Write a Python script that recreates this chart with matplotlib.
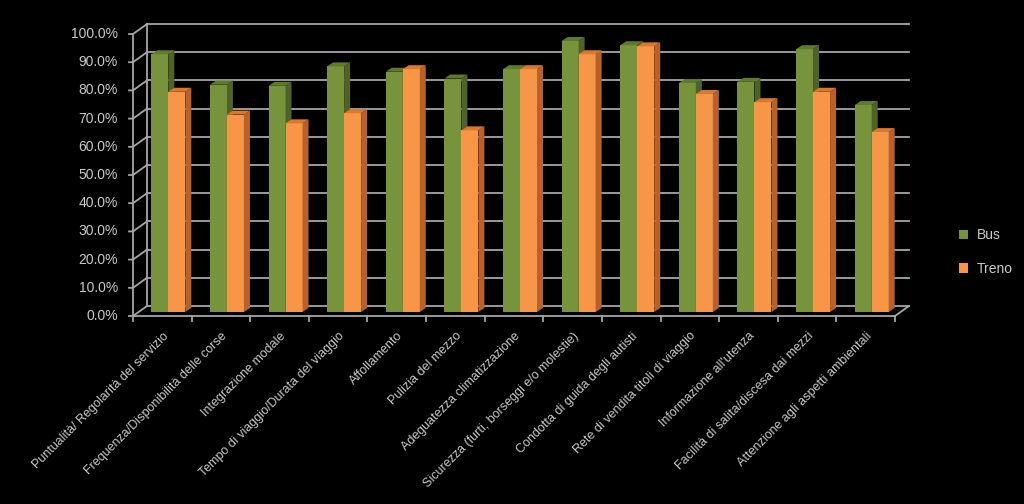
import matplotlib
matplotlib.use('Agg')
import matplotlib.pyplot as plt
from matplotlib.patches import Polygon, Patch

categories = [
    "Puntualità/ Regolarità del servizio",
    "Frequenza/Disponibilità delle corse",
    "Integrazione modale",
    "Tempo di viaggio/Durata del viaggio",
    "Affollamento",
    "Pulizia del mezzo",
    "Adeguatezza climatizzazione",
    "Sicurezza (furti, borseggi e/o molestie)",
    "Condotta di guida degli autisti",
    "Rete di vendita titoli di viaggio",
    "Informazione all'utenza",
    "Facilità di salita/discesa dai mezzi",
    "Attenzione agli aspetti ambientali",
]
bus = [91.4, 80.6, 80.2, 87.1, 85.2, 82.8, 86.1, 96.1, 94.6, 81.2, 81.6, 93.2, 73.4]
treno = [78.1, 70.0, 66.9, 70.5, 86.1, 64.4, 86.1, 91.4, 94.2, 77.3, 74.4, 78.1, 63.8]
series_names = ["Bus", "Treno"]
yticks = list(range(0, 101, 10))

GRID = "#a6a6a6"
TEXT = "#c8c8c8"
GREEN = ("#77933c", "#4f6228", "#5e7a2c")   # front, side, top
ORANGE = ("#f79646", "#b8612a", "#d9782f")

fig = plt.figure(figsize=(10.24, 5.04), dpi=100, facecolor="black")
ax = fig.add_axes([139 / 1024, (504 - 312) / 504, 762 / 1024, 282 / 504])
ax.set_xlim(-0.5, len(categories) - 0.5)
ax.set_ylim(0, 100)
ax.axis("off")

# pixel -> data unit helpers
px_x = 762 / len(categories)
px_y = 282 / 100


def px(dx, dy):
    return dx / px_x, dy / px_y


back = px(8, 6)
front = px(-6, -4)
xl, xr = -0.5, len(categories) - 0.5
line_kw = dict(color=GRID, lw=1.3, clip_on=False, zorder=1)

# back wall gridlines + left wall connectors
for v in yticks:
    ax.plot([xl + back[0], xr + back[0]], [v + back[1]] * 2, **line_kw)
    ax.plot([xl + front[0] - px(4, 0)[0], xl + front[0], xl + back[0]],
            [v + front[1], v + front[1], v + back[1]], **line_kw)
    ax.text(xl + front[0] - px(15, 0)[0], v + front[1], f"{v:.1f}%",
            ha="right", va="center", color=TEXT, fontsize=10,
            family="Liberation Sans")

# left wall verticals
ax.plot([xl + back[0]] * 2, [back[1], 100 + back[1]], **line_kw)
ax.plot([xl + front[0]] * 2, [front[1], 100 + front[1]], **line_kw)

# floor
ax.plot([xl + front[0], xr + front[0]], [front[1]] * 2, **line_kw)
ax.plot([xr + front[0], xr + back[0]], [front[1], back[1]], **line_kw)
for k in range(len(categories) + 1):
    x = xl + k + front[0]
    ax.plot([x, x], [front[1], front[1] - px(0, 5)[1]], **line_kw)

# bars with fake depth
w = 0.29
d = px(6, 4)
for i in range(len(categories)):
    for vals, off, cols in [(bus, -w / 2, GREEN), (treno, w / 2, ORANGE)]:
        v = vals[i]
        x0 = i + off - w / 2
        x1 = x0 + w
        ax.add_patch(Polygon([(x0, 0), (x1, 0), (x1, v), (x0, v)],
                             closed=True, facecolor=cols[0], edgecolor="none",
                             zorder=3, clip_on=False))
        ax.add_patch(Polygon([(x1, 0), (x1, v), (x1 + d[0], v + d[1]), (x1 + d[0], d[1])],
                             closed=True, facecolor=cols[1], edgecolor="none",
                             zorder=3, clip_on=False))
        ax.add_patch(Polygon([(x0, v), (x1, v), (x1 + d[0], v + d[1]), (x0 + d[0], v + d[1])],
                             closed=True, facecolor=cols[2], edgecolor="none",
                             zorder=3, clip_on=False))

# category labels
for i, name in enumerate(categories):
    ax.text(i + front[0], front[1] - px(0, 14)[1], name, rotation=45,
            rotation_mode="anchor", ha="right", va="top", color=TEXT,
            fontsize=9, family="Liberation Sans")

handles = [Patch(facecolor=GREEN[0]), Patch(facecolor=ORANGE[0])]
fig.legend(handles, series_names, loc="center left",
           bbox_to_anchor=(946 / 1024, 0.5), frameon=False,
           labelcolor=TEXT, handlelength=0.7, handleheight=0.7,
           handletextpad=0.6, labelspacing=1.4,
           prop={"family": "Liberation Sans", "size": 10})

fig.savefig("out.png", dpi=100, facecolor="black")
